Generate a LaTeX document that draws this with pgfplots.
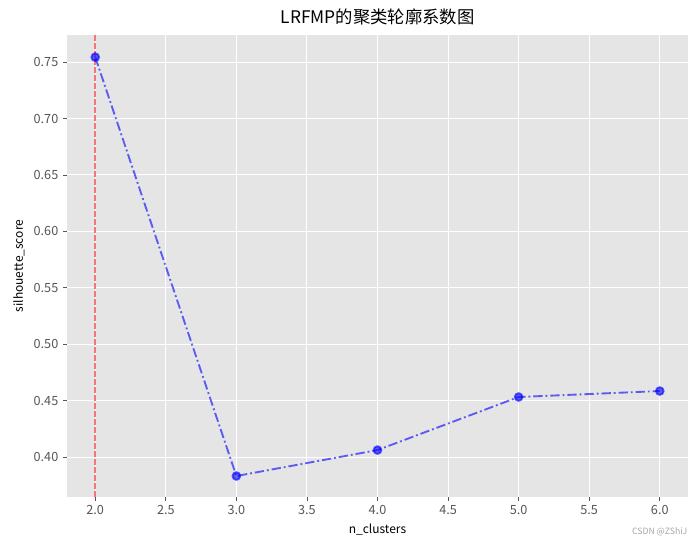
\documentclass[border=0pt]{standalone}
\usepackage{fontspec}
\setmainfont{Noto Sans CJK SC}
\usepackage{pgfplots}
\pgfplotsset{compat=1.18}
\definecolor{bgc}{HTML}{E5E5E5}
\definecolor{tickc}{HTML}{555555}
\definecolor{vred}{RGB}{244,118,118}
\begin{document}
\begin{tikzpicture}[x=0.75pt,y=0.75pt]
\useasboundingbox (-67,-49) rectangle (628,497);
\begin{axis}[
  at={(0,0)}, anchor=south west,
  scale only axis, width=465.75pt, height=346.5pt,
  xmin=1.8, xmax=6.2, ymin=0.3646, ymax=0.774,
  axis background/.style={fill=bgc},
  axis line style={draw=none},
  grid=major, major grid style={white, line width=0.8pt},
  xtick={2,2.5,...,6}, ytick={0.40,0.45,...,0.76},
  xticklabel style={/pgf/number format/.cd,fixed,fixed zerofill,precision=1},
  yticklabel style={/pgf/number format/.cd,fixed,fixed zerofill,precision=2},
  /pgf/number format/assume math mode=true,
  ticklabel style={font=\fontsize{9.5}{10}\selectfont, text=tickc},
  tick style={tickc, line width=0.6pt},
  tick align=outside, major tick length=3pt,
  xtick pos=bottom, ytick pos=left,
  xlabel={n\_clusters}, ylabel={silhouette\_score},
  label style={font=\fontsize{9}{10}\selectfont},
  title={LRFMP的聚类轮廓系数图},
  title style={font=\fontsize{13}{14}\selectfont, yshift=-2pt},
  clip=false,
]
\addplot[draw=vred, line width=1.1pt, dash pattern=on 4.2pt off 1.8pt, mark=none] coordinates {(2,0.3646) (2,0.774)};
\addplot[draw=blue, opacity=0.6, line width=1.4pt, dash pattern=on 7pt off 2.2pt on 1.4pt off 2.2pt, mark=*, mark size=2.9pt,
  mark options={solid, fill=blue, draw=blue}] coordinates {
  (2,0.7544) (3,0.3832) (4,0.4062) (5,0.4532) (6,0.4585)};
\end{axis}
\node[anchor=east, font=\fontsize{6.5}{7}\selectfont, text=gray!70] at (625,-35) {CSDN @ZShiJ};
\end{tikzpicture}
\end{document}
